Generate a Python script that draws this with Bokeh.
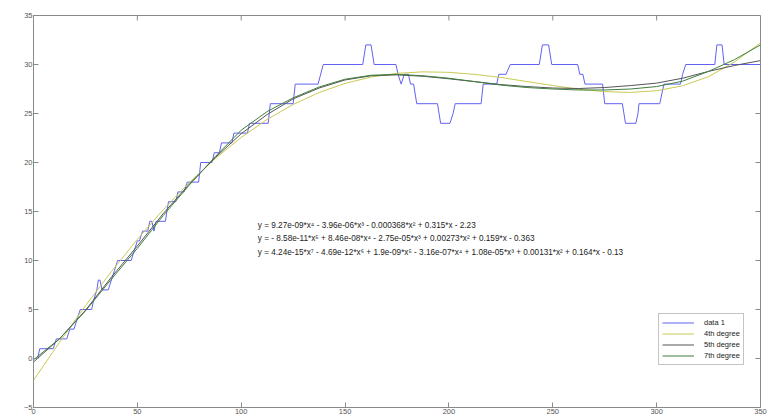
from bokeh.plotting import figure
from bokeh.models import Range1d, FixedTicker, Legend, LegendItem
from bokeh.core.properties import value
from bokeh.embed import file_html
from bokeh.resources import INLINE

# ---- data ----
data1_x = [0, 2, 3, 9.5, 11, 16, 17.5, 19.5, 21, 22.5, 28, 29, 30.5, 31.2, 32, 33, 36, 37.5, 39, 40.5,
           47, 48.5, 50, 51, 52.5, 55, 56, 57, 58, 59, 63.5, 64.2, 65, 68.5, 69.5, 72.5, 74, 79.5, 80, 80.5,
           86, 87, 89.5, 90.5, 95.5, 96.5, 103, 104, 113, 114, 125, 126, 137, 139.5, 158.5, 160, 162.5, 164,
           174.5, 175.5, 177, 178.5, 180.5, 181.5, 183, 184.5, 194.5, 196, 200.5, 202, 203, 215.5, 216.5,
           223, 224, 227.5, 229.5, 243.5, 245, 248, 249.5, 262, 263, 264.5, 265.5, 274, 275, 283.5, 285,
           290, 291, 291.5, 301.5, 302.5, 303.5, 311.5, 312.5, 314, 328, 329, 331.5, 332.5, 350]
data1_y = [0, 0, 1, 1, 2, 2, 3, 3, 4, 5, 5, 6, 7, 8, 8, 7, 7, 8, 9, 10,
           10, 11, 12, 12, 13, 13, 14, 14, 13, 14, 14, 15, 16, 16, 17, 17, 18, 18, 19, 20,
           20, 21, 21, 22, 22, 23, 23, 24, 24, 26, 26, 28, 28, 30, 30, 32, 32, 30,
           30, 29, 28, 29, 29, 28, 28, 26, 26, 24, 24, 25, 26, 26, 28,
           28, 29, 29, 30, 30, 32, 32, 30, 30, 29, 29, 28, 28, 26, 26, 24,
           24, 25, 26, 26, 27, 28, 28, 29, 30, 30, 32, 32, 30, 30]

fit_x = [0, 12.5, 25, 37.5, 50, 62.5, 75, 87.5, 100, 112.5, 125, 137.5, 150, 162.5, 175, 187.5, 200,
         212.5, 225, 237.5, 250, 262.5, 275, 287.5, 300, 312.5, 325, 337.5, 350]
fit4_y = [-2.23, 1.64, 5.39, 8.87, 12.16, 15.19, 17.95, 20.40, 22.56, 24.40, 25.92, 27.14, 28.07, 28.72,
          29.1, 29.25, 29.2, 28.99, 28.68, 28.26, 27.86, 27.47, 27.23, 27.15, 27.32, 27.83, 28.76, 30.26, 32.2]
fit5_y = [-0.36, 2.0, 4.92, 8.3, 11.48, 14.8, 17.79, 20.5, 22.94, 24.9, 26.49, 27.6, 28.42, 28.85,
          28.94, 28.8, 28.54, 28.25, 27.95, 27.75, 27.6, 27.55, 27.65, 27.85, 28.1, 28.6, 29.3, 29.9, 30.4]
fit7_y = [-0.13, 2.0, 4.85, 8.1, 11.24, 14.6, 17.7, 20.6, 23.3, 25.2, 26.6, 27.7, 28.5, 28.9,
          29.0, 28.85, 28.6, 28.25, 27.9, 27.65, 27.5, 27.4, 27.4, 27.5, 27.75, 28.3, 29.3, 30.5, 32.0]

x_ticks = [0, 50, 100, 150, 200, 250, 300, 350]
y_ticks = [-5, 0, 5, 10, 15, 20, 25, 30, 35]

legend_labels = ["data 1", "4th degree", "5th degree", "7th degree"]
eq_lines = [
    "y = 9.27e-09*x\u2074 - 3.96e-06*x\u00b3 - 0.000368*x\u00b2 + 0.315*x - 2.23",
    "y = - 8.58e-11*x\u2075 + 8.46e-08*x\u2074 - 2.75e-05*x\u00b3 + 0.00273*x\u00b2 + 0.159*x - 0.363",
    "y = 4.24e-15*x\u2077 - 4.69e-12*x\u2076 + 1.9e-09*x\u2075 - 3.16e-07*x\u2074 + 1.08e-05*x\u00b3 + 0.00131*x\u00b2 + 0.164*x - 0.13",
]

# ---- layout / style ----
FONT = "Liberation Sans"
AX = "#8a8a8a"
LBL = "#555555"
W, H = 770, 416
BL, BR, BT, BB = 33, 10, 15, 9
X0, X1, Y0, Y1 = 0, 350, -5, 35
TICK_PX = 5
eq_x = 108.0
eq_y = [13.57, 12.21, 10.85]

p = figure(width=W, height=H, x_range=Range1d(X0, X1), y_range=Range1d(Y0, Y1),
           output_backend="svg", toolbar_location=None,
           min_border_left=BL, min_border_right=BR, min_border_top=BT, min_border_bottom=BB)
p.background_fill_color = "white"
p.border_fill_color = "white"
p.outline_line_color = AX
p.xgrid.visible = False
p.ygrid.visible = False

for ax, ticks in ((p.xaxis[0], x_ticks), (p.yaxis[0], y_ticks)):
    ax.ticker = FixedTicker(ticks=ticks)
    ax.axis_line_color = AX
    ax.major_tick_line_color = AX
    ax.major_tick_in = TICK_PX
    ax.major_tick_out = 0
    ax.minor_tick_line_color = None
    ax.major_label_text_font = FONT
    ax.major_label_text_color = LBL
    ax.major_label_text_font_size = "7.5px"
    ax.major_label_standoff = 1

# inward ticks on the top and right edges of the box
ppu_x = (W - BL - BR) / (X1 - X0)
ppu_y = (H - BT - BB) / (Y1 - Y0)
p.segment(x0=x_ticks, y0=[Y1] * len(x_ticks), x1=x_ticks, y1=[Y1 - TICK_PX / ppu_y] * len(x_ticks),
          line_color=AX, line_width=1)
p.segment(x0=[X1] * len(y_ticks), y0=y_ticks, x1=[X1 - TICK_PX / ppu_x] * len(y_ticks), y1=y_ticks,
          line_color=AX, line_width=1)

r_data = p.line(data1_x, data1_y, line_color="#6262f2", line_width=1)
r4 = p.line(fit_x, fit4_y, line_color="#c9c955", line_width=1)
r5 = p.line(fit_x, fit5_y, line_color="#555555", line_width=1)
r7 = p.line(fit_x, fit7_y, line_color="#3f7f3f", line_width=1)

p.text(x=[eq_x] * 3, y=eq_y, text=eq_lines, text_font=value(FONT), text_font_size="8.2px",
       text_color="#222222", text_baseline="middle", text_align="left")

legend = Legend(items=[LegendItem(label=l, renderers=[r]) for l, r in zip(legend_labels, [r_data, r4, r5, r7])],
                location=(625, 42))
legend.label_text_font = FONT
legend.label_text_font_size = "7.5px"
legend.label_text_color = "#222222"
legend.glyph_width = 32
legend.glyph_height = 11
legend.label_height = 11
legend.label_standoff = 10
legend.spacing = 0
legend.padding = 3
legend.margin = 0
legend.border_line_color = AX
legend.background_fill_color = "white"
p.add_layout(legend)

open("out.html", "w").write(file_html(p, INLINE))
